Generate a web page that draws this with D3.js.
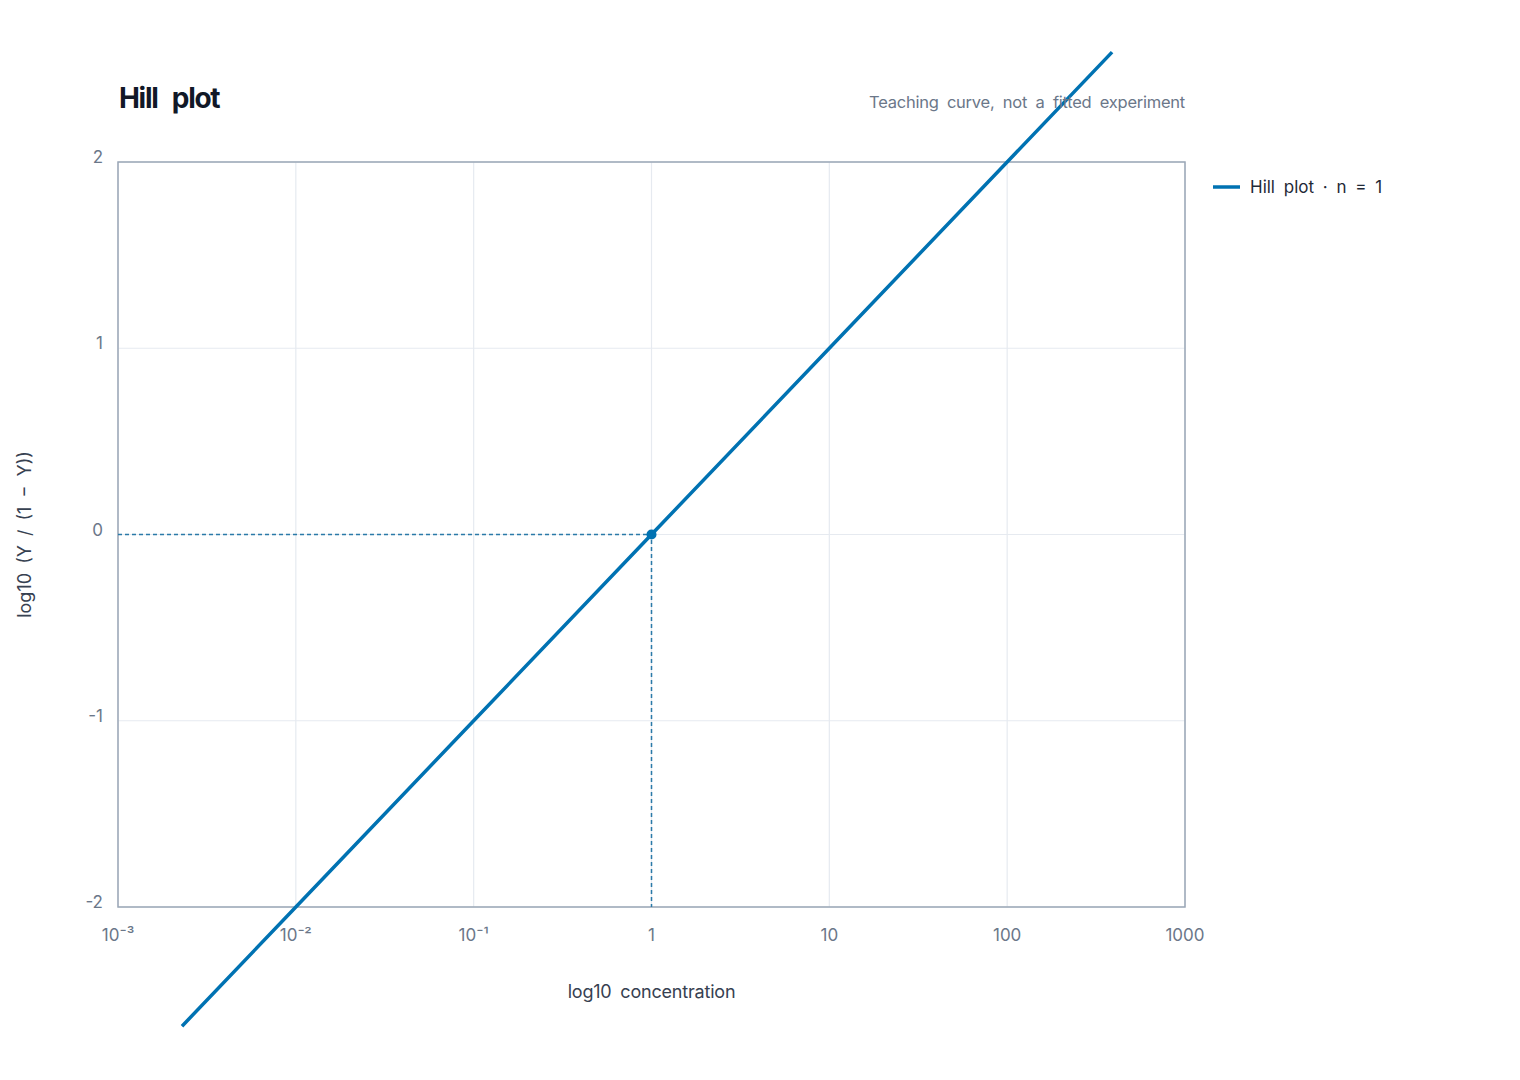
<!DOCTYPE html>
<html>
<head>
  <title>Hill plot</title>
  <script src="https://d3js.org/d3.v7.min.js"></script>
  <style>
    body { margin: 0; background: #fff; }
    text { font-family: Inter, "Noto Sans", sans-serif; word-spacing: 4px; }
  </style>
</head>
<body>
  <svg width="1520" height="1080"></svg>

  <script>
    // Hill plot data (n = 1): concentration vs log10(Y / (1 - Y))
    const concentration = [0.00229, 0.01, 0.1, 1, 10, 100, 389];
    const hillValues = [-2.64, -2, -1, 0, 1, 2, 2.59];
    const midpoint = { x: 1, y: 0 };

    const xTicks = [1e-3, 1e-2, 1e-1, 1, 10, 100, 1000];
    const xTickLabels = ["10⁻³", "10⁻²", "10⁻¹", "1", "10", "100", "1000"];
    const yTicks = [-2, -1, 0, 1, 2];

    const margin = { top: 162, right: 335, bottom: 173, left: 118 };
    const width = 1520 - margin.left - margin.right;
    const height = 1080 - margin.top - margin.bottom;
    const blue = "#0072b2";

    const svg = d3.select("svg");
    const g = svg.append("g")
      .attr("transform", `translate(${margin.left},${margin.top})`);

    const x = d3.scaleLog().domain([1e-3, 1e3]).range([0, width]);
    const y = d3.scaleLinear().domain([-2, 2]).range([height, 0]);

    // grid
    g.append("g").selectAll("line").data(xTicks).join("line")
      .attr("x1", d => x(d)).attr("x2", d => x(d))
      .attr("y1", 0).attr("y2", height)
      .attr("stroke", "#e6eaf0").attr("stroke-width", 1.2);
    g.append("g").selectAll("line").data(yTicks).join("line")
      .attr("x1", 0).attr("x2", width)
      .attr("y1", d => y(d)).attr("y2", d => y(d))
      .attr("stroke", "#e6eaf0").attr("stroke-width", 1.2);

    // frame
    g.append("rect")
      .attr("width", width).attr("height", height)
      .attr("fill", "none").attr("stroke", "#9aa7b6").attr("stroke-width", 1.5);

    // x tick labels
    g.append("g").selectAll("text").data(xTicks).join("text")
      .attr("x", d => x(d)).attr("y", height + 34)
      .attr("text-anchor", "middle")
      .attr("font-size", 17).attr("fill", "#6b7789")
      .text((d, i) => xTickLabels[i]);

    // y tick labels
    g.append("g").selectAll("text").data(yTicks).join("text")
      .attr("x", -15).attr("y", d => y(d) + 1)
      .attr("text-anchor", "end")
      .attr("font-size", 17).attr("fill", "#6b7789")
      .text(d => d);

    // dashed guides to the midpoint
    g.append("path")
      .attr("d", `M0,${y(midpoint.y)}H${x(midpoint.x)}V${height}`)
      .attr("fill", "none").attr("stroke", "#2a7aa8")
      .attr("stroke-width", 1.5).attr("stroke-dasharray", "4,3");

    // Hill line (not clipped)
    const line = d3.line()
      .x((d, i) => x(concentration[i]))
      .y(d => y(d));
    g.append("path")
      .datum(hillValues)
      .attr("fill", "none")
      .attr("stroke", blue)
      .attr("stroke-width", 3.5)
      .attr("d", line);

    g.append("circle")
      .attr("cx", x(midpoint.x)).attr("cy", y(midpoint.y)).attr("r", 5)
      .attr("fill", blue);

    // titles
    svg.append("text")
      .attr("x", 119).attr("y", 108)
      .attr("font-size", 28).attr("font-weight", 700)
      .attr("letter-spacing", -1.3)
      .style("word-spacing", "9px")
      .attr("fill", "#111827")
      .text("Hill plot");
    svg.append("text")
      .attr("x", margin.left + width).attr("y", 108)
      .attr("text-anchor", "end")
      .attr("font-size", 16.5).attr("letter-spacing", -0.25)
      .attr("fill", "#6b7789")
      .text("Teaching curve, not a fitted experiment");

    // axis titles
    svg.append("text")
      .attr("x", margin.left + width / 2).attr("y", 998)
      .attr("text-anchor", "middle")
      .attr("font-size", 18).attr("letter-spacing", -0.2)
      .attr("fill", "#374151")
      .text("log10 concentration");
    svg.append("text")
      .attr("transform", `translate(31,${margin.top + y(0)}) rotate(-90)`)
      .attr("text-anchor", "middle")
      .attr("font-size", 18).attr("fill", "#374151")
      .text("log10 (Y / (1 − Y))");

    // legend
    const lg = svg.append("g").attr("transform", "translate(1213,187)");
    lg.append("line").attr("x1", 0).attr("x2", 27)
      .attr("stroke", blue).attr("stroke-width", 3.5);
    lg.append("text").attr("x", 37).attr("y", 6)
      .attr("font-size", 17).attr("fill", "#1f2937")
      .text("Hill plot · n = 1");
  </script>
</body>
</html>
